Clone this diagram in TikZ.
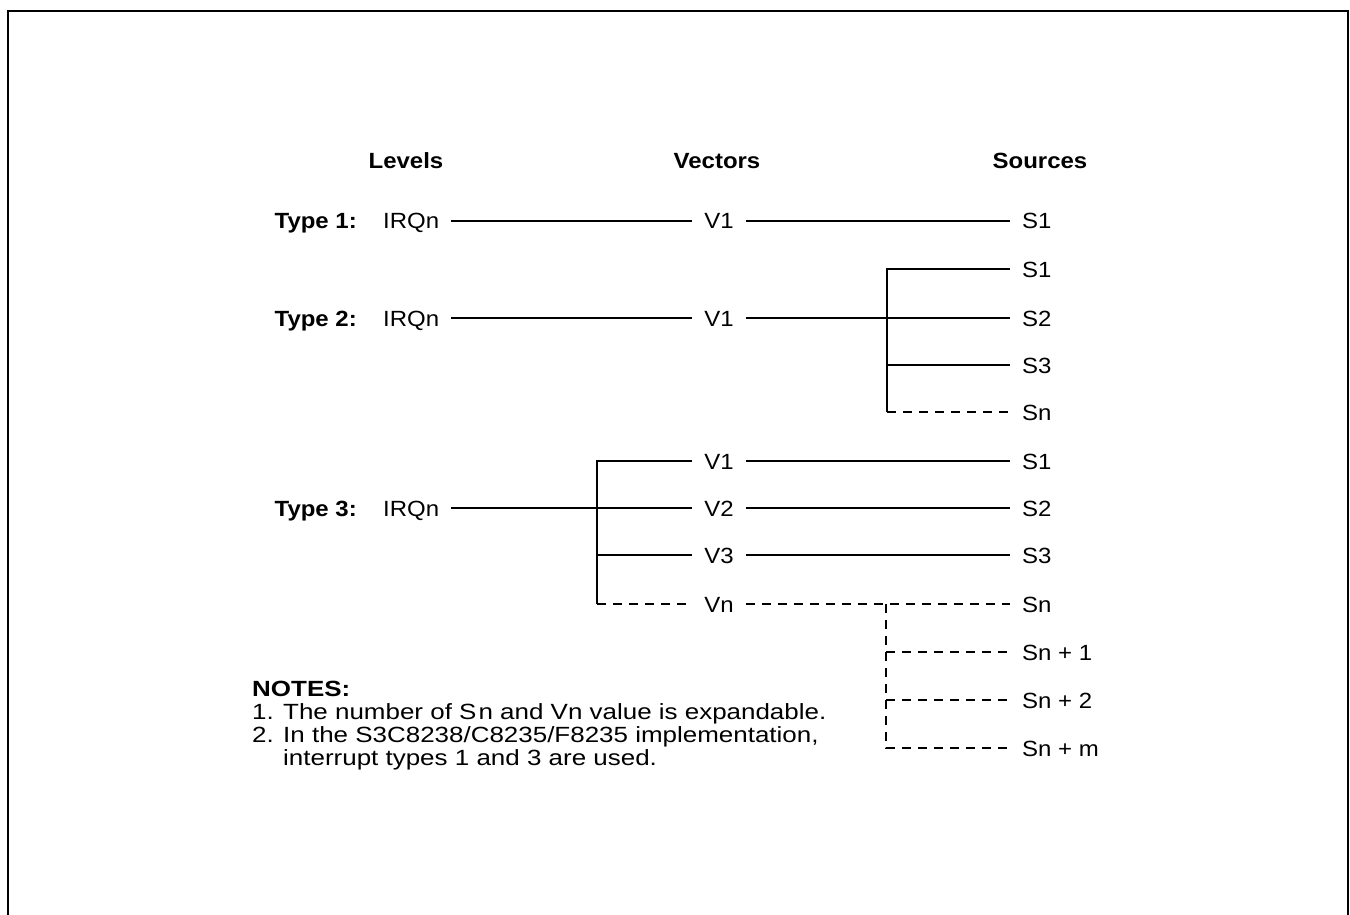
\documentclass[tikz,border=0pt]{standalone}
\usepackage{fontspec}
\setmainfont{Liberation Sans}[FakeStretch=1.09]
\newfontfamily\notefont{Liberation Sans}[FakeStretch=1.18]
\begin{document}
\begin{tikzpicture}[x=1pt,y=-1pt,
  txt/.style={font=\fontsize{22}{26}\selectfont, inner ysep=0pt, inner xsep=12pt, text height=16pt, text depth=0pt},
  hdr/.style={txt, font=\fontsize{22}{26}\selectfont\bfseries},
  note/.style={font=\notefont\fontsize{22}{26}\selectfont, anchor=base west, inner sep=0pt},
  ln/.style={line width=1.5pt},
  dl/.style={ln, dash pattern=on 9pt off 7pt},
  frame/.style={line width=2.5pt}]
\useasboundingbox (0,0) rectangle (1350,915);
\draw[frame] (8,915) -- (8,11) -- (1348,11) -- (1348,915);
% headers
\node[hdr] (lev) at (406,160) {Levels};
\node[hdr] (vec) at (717,160) {Vectors};
\node[hdr] (src) at (1040,160) {Sources};
% type 1
\node[hdr, anchor=east, inner xsep=0pt] (t1) at (357,221) {Type 1:};
\node[txt, anchor=west] (i1) at (371,221) {IRQn};
\node[txt] (v1a) at (719,221) {V1};
\node[txt, anchor=west] (s1a) at (1010,221) {S1};
\draw[ln] (i1.east) -- (v1a.west);
\draw[ln] (v1a.east) -- (s1a.west);
% type 2
\node[hdr, anchor=east, inner xsep=0pt] (t2) at (357,318) {Type 2:};
\node[txt, anchor=west] (i2) at (371,318) {IRQn};
\node[txt] (v2a) at (719,318) {V1};
\node[txt, anchor=west] (s2a) at (1010,269) {S1};
\node[txt, anchor=west] (s2b) at (1010,318) {S2};
\node[txt, anchor=west] (s2c) at (1010,365) {S3};
\node[txt, anchor=west] (s2n) at (1010,412) {Sn};
\coordinate (b2t) at (887,269);
\coordinate (b2c) at (887,365);
\coordinate (b2b) at (887,412);
\draw[ln] (i2.east) -- (v2a.west);
\draw[ln] (v2a.east) -- (s2b.west);
\draw[ln] (s2a.west) -- (b2t) -- (b2b);
\draw[ln] (b2c) -- (s2c.west);
\draw[dl] (b2b) -- (s2n.west);
% type 3
\node[hdr, anchor=east, inner xsep=0pt] (t3) at (357,508) {Type 3:};
\node[txt, anchor=west] (i3) at (371,508) {IRQn};
\node[txt] (v3a) at (719,461) {V1};
\node[txt] (v3b) at (719,508) {V2};
\node[txt] (v3c) at (719,555) {V3};
\node[txt] (v3n) at (719,604) {Vn};
\node[txt, anchor=west] (s3a) at (1010,461) {S1};
\node[txt, anchor=west] (s3b) at (1010,508) {S2};
\node[txt, anchor=west] (s3c) at (1010,555) {S3};
\node[txt, anchor=west] (s3n) at (1010,604) {Sn};
\node[txt, anchor=west] (s4a) at (1010,652) {Sn + 1};
\node[txt, anchor=west] (s4b) at (1010,700) {Sn + 2};
\node[txt, anchor=west] (s4m) at (1010,748) {Sn + m};
\coordinate (b3t) at (597,461);
\coordinate (b3c) at (597,555);
\coordinate (b3b) at (597,604);
\coordinate (b4t) at (886,604);
\coordinate (b4a) at (886,652);
\coordinate (b4b) at (886,700);
\coordinate (b4m) at (886,748);
\draw[ln] (i3.east) -- (v3b.west);
\draw[ln] (v3a.west) -- (b3t) -- (b3b);
\draw[ln] (b3c) -- (v3c.west);
\draw[dl] (b3b) -- (v3n.west);
\draw[ln] (v3a.east) -- (s3a.west);
\draw[ln] (v3b.east) -- (s3b.west);
\draw[ln] (v3c.east) -- (s3c.west);
\draw[dl] (v3n.east) -- (s3n.west);
\draw[dl] (b4t) -- (b4m) -- (s4m.west);
\draw[dl] (b4a) -- (s4a.west);
\draw[dl] (b4b) -- (s4b.west);
% notes
\node[note, font=\notefont\fontsize{22}{26}\selectfont\bfseries] (notes) at (252,696) {NOTES:};
\node[note] (n1num) at (252,719) {1.};
\node[note] (n1) at (283,719) {The number of S\kern2pt n and Vn value is expandable.};
\node[note] (n2num) at (252,742) {2.};
\node[note] (n2) at (283,742) {In the S3C8238/C8235/F8235 implementation,};
\node[note] (n3) at (283,765) {interrupt types 1 and 3 are used.};
\end{tikzpicture}
\end{document}
